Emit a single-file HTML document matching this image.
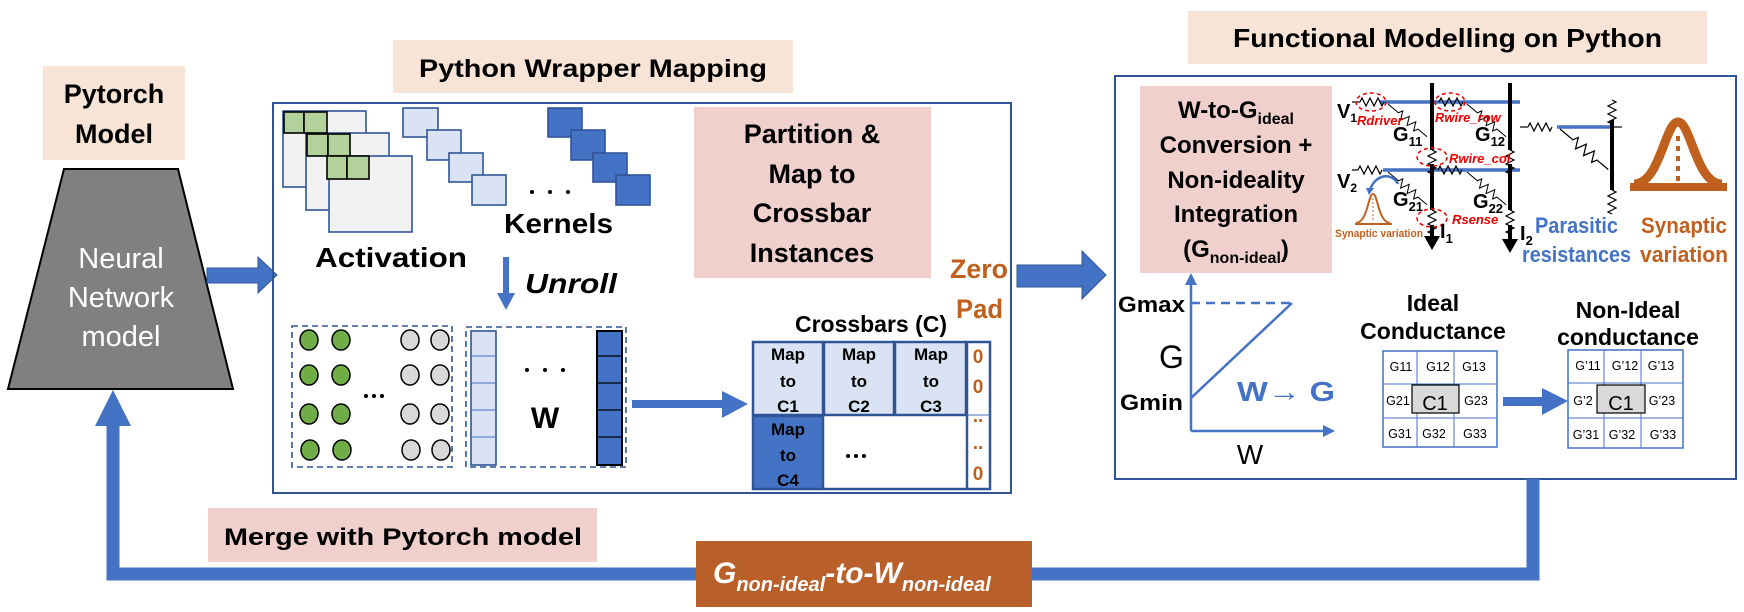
<!DOCTYPE html>
<html><head><meta charset="utf-8"><style>
html,body{margin:0;padding:0;background:#fff}
svg{display:block}
text{font-family:"Liberation Sans",sans-serif}
.b{font-weight:bold}
</style></head><body>
<svg width="1744" height="612" viewBox="0 0 1744 612" xmlns="http://www.w3.org/2000/svg">
<defs>
<path id="rz" d="M0 0 h16 l2.5 -5 l5 10 l5 -10 l5 10 l5 -10 l5 10 l2.5 -5 h14" fill="none" stroke="#000" stroke-width="1.2"/>
<path id="rs" d="M0 0 l2 -4 l4 8 l4 -8 l4 8 l4 -8 l4 8 l2 -4" fill="none" stroke="#000" stroke-width="1.2"/>
</defs>

<!-- Pytorch Model -->
<rect x="43" y="66" width="142" height="94" fill="#f7e4d6"/>
<text x="114" y="103" class="b" font-size="27" text-anchor="middle">Pytorch</text>
<text x="114" y="143" class="b" font-size="27" text-anchor="middle">Model</text>
<polygon points="64,169 178,169 233,389 8,389" fill="#808080" stroke="#000" stroke-width="2"/>
<text x="121" y="268" font-size="29" fill="#fff" text-anchor="middle">Neural</text>
<text x="121" y="307" font-size="29" fill="#fff" text-anchor="middle">Network</text>
<text x="121" y="346" font-size="29" fill="#fff" text-anchor="middle">model</text>
<polygon points="207,268 258,268 258,257 277,275 258,293 258,283 207,283" fill="#4472c4" stroke="#2f5597" stroke-width="1"/>

<!-- Python Wrapper Mapping -->
<rect x="393" y="40" width="400" height="53" fill="#f7e4d6"/>
<text x="419" y="77" class="b" font-size="25" textLength="348" lengthAdjust="spacingAndGlyphs">Python Wrapper Mapping</text>
<rect x="273" y="103" width="738" height="390" fill="none" stroke="#2f5597" stroke-width="2"/>

<!-- activation -->
<g stroke="#2f5597" stroke-width="1.6" fill="#f2f2f2">
<rect x="283" y="111" width="83" height="76"/>
<rect x="306" y="133" width="83" height="77"/>
<rect x="329" y="156" width="83" height="76"/>
</g>
<g stroke="#000" stroke-width="1.6" fill="#b3d19a">
<rect x="284" y="112" width="20" height="21"/><rect x="304" y="112" width="23" height="21"/>
<rect x="307" y="134" width="21" height="22"/><rect x="328" y="134" width="22" height="22"/>
<rect x="327" y="156" width="20" height="23"/><rect x="347" y="156" width="22" height="23"/>
</g>
<g stroke="#2f5597" stroke-width="1.6" fill="#dae3f3">
<rect x="403" y="108" width="35" height="29"/><rect x="427" y="130" width="34" height="30"/>
<rect x="449" y="153" width="34" height="29"/><rect x="472" y="175" width="34" height="30"/>
</g>
<g stroke="#2f5597" stroke-width="1.6" fill="#4472c4">
<rect x="548" y="108" width="34" height="29"/><rect x="571" y="130" width="34" height="30"/>
<rect x="593" y="153" width="34" height="29"/><rect x="616" y="175" width="34" height="30"/>
</g>
<g fill="#000"><circle cx="532" cy="192" r="2"/><circle cx="550" cy="192" r="2"/><circle cx="568" cy="192" r="2"/></g>
<text x="504" y="233" class="b" font-size="28" textLength="109" lengthAdjust="spacingAndGlyphs">Kernels</text>
<text x="315" y="267" class="b" font-size="28" textLength="152" lengthAdjust="spacingAndGlyphs">Activation</text>
<rect x="503" y="257" width="6" height="38" fill="#4472c4"/>
<polygon points="497,293 515,293 506,310" fill="#4472c4"/>
<text x="525" y="293" class="b" font-size="28" font-style="italic" textLength="92" lengthAdjust="spacingAndGlyphs">Unroll</text>

<!-- Partition -->
<rect x="694" y="107" width="237" height="171" fill="#efd0cc"/>
<g class="b" font-size="27" text-anchor="middle" font-weight="bold">
<text x="812" y="143">Partition &amp;</text>
<text x="812" y="183">Map to</text>
<text x="812" y="222">Crossbar</text>
<text x="812" y="262">Instances</text>
</g>
<text x="950" y="278" font-weight="bold" font-size="27" fill="#c0601e" textLength="58" lengthAdjust="spacingAndGlyphs">Zero</text>
<text x="956" y="318" font-weight="bold" font-size="27" fill="#c0601e" textLength="47" lengthAdjust="spacingAndGlyphs">Pad</text>

<!-- unrolled activation -->
<rect x="292" y="326" width="160" height="141" fill="none" stroke="#2f5597" stroke-width="1.6" stroke-dasharray="6,4"/>
<g stroke="#000" stroke-width="1.5">
<g fill="#70ad47">
<ellipse cx="309" cy="340" rx="9" ry="10"/><ellipse cx="341" cy="340" rx="9" ry="10"/>
<ellipse cx="309" cy="375" rx="9" ry="10"/><ellipse cx="341" cy="375" rx="9" ry="10"/>
<ellipse cx="309" cy="414" rx="9" ry="10"/><ellipse cx="341" cy="414" rx="9" ry="10"/>
<ellipse cx="310" cy="450" rx="9" ry="10"/><ellipse cx="342" cy="450" rx="9" ry="10"/>
</g>
<g fill="#d9d9d9">
<ellipse cx="410" cy="340" rx="9" ry="10"/><ellipse cx="440" cy="340" rx="9" ry="10"/>
<ellipse cx="410" cy="375" rx="9" ry="10"/><ellipse cx="440" cy="375" rx="9" ry="10"/>
<ellipse cx="410" cy="414" rx="9" ry="10"/><ellipse cx="440" cy="414" rx="9" ry="10"/>
<ellipse cx="411" cy="450" rx="9" ry="10"/><ellipse cx="441" cy="450" rx="9" ry="10"/>
</g></g>
<g fill="#000"><circle cx="366" cy="396" r="2"/><circle cx="374" cy="396" r="2"/><circle cx="382" cy="396" r="2"/></g>

<!-- W -->
<rect x="466" y="327" width="160" height="140" fill="none" stroke="#2f5597" stroke-width="1.6" stroke-dasharray="6,4"/>
<rect x="471" y="331" width="25" height="134" fill="#dae3f3" stroke="#2f5597" stroke-width="1.6"/>
<g stroke="#4472c4" stroke-width="1"><line x1="471" y1="356" x2="496" y2="356"/><line x1="471" y1="383" x2="496" y2="383"/><line x1="471" y1="410" x2="496" y2="410"/><line x1="471" y1="437" x2="496" y2="437"/></g>
<rect x="597" y="331" width="25" height="134" fill="#4472c4" stroke="#000" stroke-width="2"/>
<g stroke="#000" stroke-width="1.2"><line x1="597" y1="356" x2="622" y2="356"/><line x1="597" y1="383" x2="622" y2="383"/><line x1="597" y1="410" x2="622" y2="410"/><line x1="597" y1="437" x2="622" y2="437"/></g>
<g fill="#000"><circle cx="527" cy="370" r="2"/><circle cx="545" cy="370" r="2"/><circle cx="563" cy="370" r="2"/></g>
<text x="545" y="428" class="b" font-size="30" text-anchor="middle">W</text>
<polygon points="632,400 722,400 722,391 748,404 722,418 722,408 632,408" fill="#4472c4"/>

<!-- Crossbars -->
<text x="795" y="332" class="b" font-size="23" textLength="152" lengthAdjust="spacingAndGlyphs">Crossbars (C)</text>
<g stroke="#2f5597" stroke-width="2.5">
<rect x="753" y="342" width="70" height="73" fill="#dae3f3"/>
<rect x="824" y="342" width="70" height="73" fill="#dae3f3"/>
<rect x="895" y="342" width="71" height="73" fill="#dae3f3"/>
<rect x="753" y="416" width="70" height="73" fill="#4472c4"/>
<rect x="967" y="342" width="23" height="147" fill="none"/>
</g>
<line x1="823" y1="489" x2="966" y2="489" stroke="#2f5597" stroke-width="2.5"/>
<line x1="967" y1="415" x2="990" y2="415" stroke="#4472c4" stroke-width="1"/>
<g font-weight="bold" font-size="17" text-anchor="middle">
<text x="788" y="360">Map</text><text x="788" y="387">to</text><text x="788" y="412">C1</text>
<text x="859" y="360">Map</text><text x="859" y="387">to</text><text x="859" y="412">C2</text>
<text x="931" y="360">Map</text><text x="931" y="387">to</text><text x="931" y="412">C3</text>
<text x="788" y="435">Map</text><text x="788" y="461">to</text><text x="788" y="486">C4</text>
</g>
<g fill="#000"><circle cx="848" cy="456" r="2"/><circle cx="856" cy="456" r="2"/><circle cx="864" cy="456" r="2"/></g>
<g font-weight="bold" font-size="19" fill="#c0601e" text-anchor="middle">
<text x="978" y="363">0</text><text x="978" y="393">0</text><text x="978" y="422">..</text><text x="978" y="449">..</text><text x="978" y="480">0</text>
</g>

<!-- arrow to right -->
<polygon points="1017,265 1082,265 1082,251 1106,275 1082,299 1082,287 1017,287" fill="#4472c4" stroke="#2f5597" stroke-width="1"/>

<!-- Functional Modelling -->
<rect x="1188" y="11" width="519" height="53" fill="#f7e4d6"/>
<text x="1233" y="47" class="b" font-size="26" textLength="429" lengthAdjust="spacingAndGlyphs">Functional Modelling on Python</text>
<rect x="1115" y="76" width="621" height="403" fill="none" stroke="#2f5597" stroke-width="2"/>

<rect x="1140" y="86" width="192" height="187" fill="#efd0cc"/>
<g font-weight="bold" font-size="24" text-anchor="middle">
<text x="1236" y="118">W-to-G<tspan font-size="16" dy="6">ideal</tspan></text>
<text x="1236" y="153">Conversion +</text>
<text x="1236" y="188">Non-ideality</text>
<text x="1236" y="222">Integration</text>
<text x="1236" y="257">(G<tspan font-size="16" dy="6">non-ideal</tspan><tspan dy="-6">)</tspan></text>
</g>

<!-- graph -->
<g stroke="#4472c4" stroke-width="2.5" fill="none">
<line x1="1191" y1="280" x2="1191" y2="431"/>
<line x1="1191" y1="431" x2="1328" y2="431"/>
<line x1="1191" y1="303" x2="1292" y2="303" stroke-dasharray="9,6"/>
<line x1="1191" y1="398" x2="1292" y2="303"/>
</g>
<polygon points="1185,285 1191,273 1197,285" fill="#4472c4"/>
<polygon points="1323,425 1335,431 1323,437" fill="#4472c4"/>
<text x="1118" y="312" class="b" font-size="22" textLength="67" lengthAdjust="spacingAndGlyphs">Gmax</text>
<text x="1159" y="368" font-size="32">G</text>
<text x="1120" y="410" class="b" font-size="22" textLength="63" lengthAdjust="spacingAndGlyphs">Gmin</text>
<text x="1237" y="401" class="b" font-size="28" fill="#4472c4" textLength="98" lengthAdjust="spacingAndGlyphs">W→ G</text>
<text x="1250" y="464" font-size="28" text-anchor="middle">W</text>

<!-- circuit -->
<g stroke="#4472c4" stroke-width="3.5">
<line x1="1380" y1="102" x2="1520" y2="102"/>
<line x1="1383" y1="170" x2="1520" y2="170"/>
<line x1="1557" y1="127" x2="1612" y2="127"/>
</g>
<g stroke="#000" stroke-width="4">
<line x1="1432" y1="83" x2="1432" y2="150"/><line x1="1432" y1="164" x2="1432" y2="210"/>
<line x1="1510" y1="83" x2="1510" y2="150"/><line x1="1510" y1="164" x2="1510" y2="210"/>
<line x1="1612" y1="120" x2="1612" y2="190"/>
<line x1="1432" y1="225" x2="1432" y2="240"/><line x1="1510" y1="225" x2="1510" y2="243"/>
</g>
<polygon points="1424,236 1440,236 1432,250" fill="#000"/>
<polygon points="1502,239 1518,239 1510,253" fill="#000"/>
<g>
<use href="#rs" transform="translate(1360,102)"/>
<use href="#rs" transform="translate(1439,102)"/>
<use href="#rs" transform="translate(1358,170)"/>
<use href="#rs" transform="translate(1438,170)"/>
<use href="#rs" transform="translate(1528,127)"/>
<use href="#rs" transform="translate(1432,150) rotate(90)"/>
<use href="#rs" transform="translate(1510,150) rotate(90)"/>
<use href="#rs" transform="translate(1432,210) rotate(90)"/>
<use href="#rs" transform="translate(1510,210) rotate(90)"/>
<use href="#rs" transform="translate(1612,100) rotate(90)"/>
<use href="#rs" transform="translate(1612,190) rotate(90)"/>
<use href="#rz" transform="translate(1388,104) rotate(40) scale(0.85)"/>
<use href="#rz" transform="translate(1467,104) rotate(40) scale(0.85)"/>
<use href="#rz" transform="translate(1388,172) rotate(40) scale(0.85)"/>
<use href="#rz" transform="translate(1467,172) rotate(40) scale(0.85)"/>
<use href="#rz" transform="translate(1560,129) rotate(40) scale(1.05)"/>
</g>
<line x1="1352" y1="102" x2="1360" y2="102" stroke="#000" stroke-width="1.2"/>
<line x1="1352" y1="170" x2="1358" y2="170" stroke="#000" stroke-width="1.2"/>
<line x1="1520" y1="127" x2="1528" y2="127" stroke="#000" stroke-width="1.2"/>
<line x1="1612" y1="127" x2="1622" y2="127" stroke="#000" stroke-width="1.2"/>
<g fill="none" stroke="#e00" stroke-width="1.5" stroke-dasharray="4,3">
<ellipse cx="1371" cy="102" rx="15" ry="9"/>
<ellipse cx="1450" cy="102" rx="15" ry="9"/>
<ellipse cx="1432" cy="157" rx="15" ry="9"/>
<ellipse cx="1432" cy="218" rx="15" ry="9"/>
</g>
<g fill="#e00" font-family="Liberation Serif,serif" font-style="italic" font-weight="bold" font-size="13">
<text x="1357" y="125">Rdriver</text>
<text x="1435" y="122">Rwire_row</text>
<text x="1449" y="163">Rwire_col</text>
<text x="1452" y="224">Rsense</text>
</g>
<g font-weight="bold" font-size="20">
<text x="1337" y="118">V<tspan font-size="12" dy="4">1</tspan></text>
<text x="1337" y="188">V<tspan font-size="12" dy="4">2</tspan></text>
<text x="1393" y="141">G<tspan font-size="13" dy="5">11</tspan></text>
<text x="1475" y="141">G<tspan font-size="13" dy="5">12</tspan></text>
<text x="1393" y="206">G<tspan font-size="13" dy="5">21</tspan></text>
<text x="1473" y="208">G<tspan font-size="13" dy="5">22</tspan></text>
<text x="1440" y="238">I<tspan font-size="13" dy="5">1</tspan></text>
<text x="1520" y="240">I<tspan font-size="13" dy="5">2</tspan></text>
</g>
<!-- small bell -->
<path d="M1356 223 C1368 222 1368 194 1373 194 C1378 194 1378 222 1390 223" fill="none" stroke="#c0601e" stroke-width="2"/>
<line x1="1355" y1="224" x2="1392" y2="224" stroke="#c0601e" stroke-width="2"/>
<line x1="1373" y1="198" x2="1373" y2="222" stroke="#c0601e" stroke-width="1" stroke-dasharray="2,2"/>
<path d="M1398 184 C1392 172 1375 174 1370 190" fill="none" stroke="#4472c4" stroke-width="2.5"/>
<polygon points="1366,188 1374,188 1369,195" fill="#4472c4"/>
<text x="1335" y="237" font-weight="bold" font-size="11" fill="#c0601e" textLength="88" lengthAdjust="spacingAndGlyphs">Synaptic variation</text>
<!-- big bell -->
<path d="M1634 184 C1660 184 1665 122 1678 122 C1691 122 1696 184 1722 184" fill="none" stroke="#c0601e" stroke-width="9"/>
<rect x="1630" y="183" width="97" height="8" fill="#c0601e"/>
<line x1="1678" y1="136" x2="1678" y2="183" stroke="#c0601e" stroke-width="4" stroke-dasharray="5,5"/>
<g font-weight="bold" font-size="22">
<text x="1535" y="233" fill="#4472c4" textLength="83" lengthAdjust="spacingAndGlyphs">Parasitic</text>
<text x="1522" y="262" fill="#4472c4" textLength="109" lengthAdjust="spacingAndGlyphs">resistances</text>
<text x="1641" y="233" fill="#c0601e" textLength="86" lengthAdjust="spacingAndGlyphs">Synaptic</text>
<text x="1640" y="262" fill="#c0601e" textLength="88" lengthAdjust="spacingAndGlyphs">variation</text>
</g>

<!-- conductance grids -->
<g font-weight="bold" font-size="23" text-anchor="middle">
<text x="1433" y="311">Ideal</text>
<text x="1433" y="339">Conductance</text>
<text x="1628" y="318">Non-Ideal</text>
<text x="1628" y="345">conductance</text>
</g>
<g fill="#fff" stroke="#4472c4" stroke-width="1.5">
<rect x="1383" y="351" width="114" height="96"/>
<rect x="1568" y="350" width="115" height="98"/>
</g>
<g stroke="#4472c4" stroke-width="1">
<line x1="1417" y1="351" x2="1417" y2="447"/><line x1="1454" y1="351" x2="1454" y2="447"/>
<line x1="1383" y1="384" x2="1497" y2="384"/><line x1="1383" y1="418" x2="1497" y2="418"/>
<line x1="1604" y1="350" x2="1604" y2="448"/><line x1="1641" y1="350" x2="1641" y2="448"/>
<line x1="1568" y1="383" x2="1683" y2="383"/><line x1="1568" y1="418" x2="1683" y2="418"/>
</g>
<rect x="1412" y="385" width="47" height="28" fill="#d9d9d9" stroke="#000" stroke-width="1.2"/>
<rect x="1597" y="385" width="48" height="28" fill="#d9d9d9" stroke="#000" stroke-width="1.2"/>
<g font-size="12.5" text-anchor="middle">
<text x="1401" y="371">G11</text><text x="1438" y="371">G12</text><text x="1474" y="371">G13</text>
<text x="1398" y="405">G21</text><text x="1476" y="405">G23</text>
<text x="1400" y="438">G31</text><text x="1434" y="438">G32</text><text x="1475" y="438">G33</text>
<text x="1588" y="370">G’11</text><text x="1625" y="370">G’12</text><text x="1661" y="370">G’13</text>
<text x="1583" y="405">G’2</text><text x="1662" y="405">G’23</text>
<text x="1586" y="439">G’31</text><text x="1622" y="439">G’32</text><text x="1663" y="439">G’33</text>
</g>
<text x="1435" y="410" font-size="20" text-anchor="middle">C1</text>
<text x="1621" y="410" font-size="20" text-anchor="middle">C1</text>
<polygon points="1503,397 1542,397 1542,388 1568,401 1542,415 1542,406 1503,406" fill="#4472c4"/>

<!-- feedback loop -->
<path d="M1533 479 V574 H113 V420" fill="none" stroke="#4472c4" stroke-width="13"/>
<polygon points="95,426 113,390 131,426" fill="#4472c4"/>
<rect x="208" y="508" width="389" height="54" fill="#efd0cc"/>
<text x="224" y="545" class="b" font-size="24" textLength="358" lengthAdjust="spacingAndGlyphs">Merge with Pytorch model</text>
<rect x="696" y="541" width="336" height="66" fill="#b85f2a"/>
<text x="713" y="583" fill="#fff" font-weight="bold" font-style="italic" font-size="30">G<tspan font-size="20" dy="8">non-ideal</tspan><tspan dy="-8">-to-W</tspan><tspan font-size="20" dy="8">non-ideal</tspan></text>
</svg>
</body></html>
